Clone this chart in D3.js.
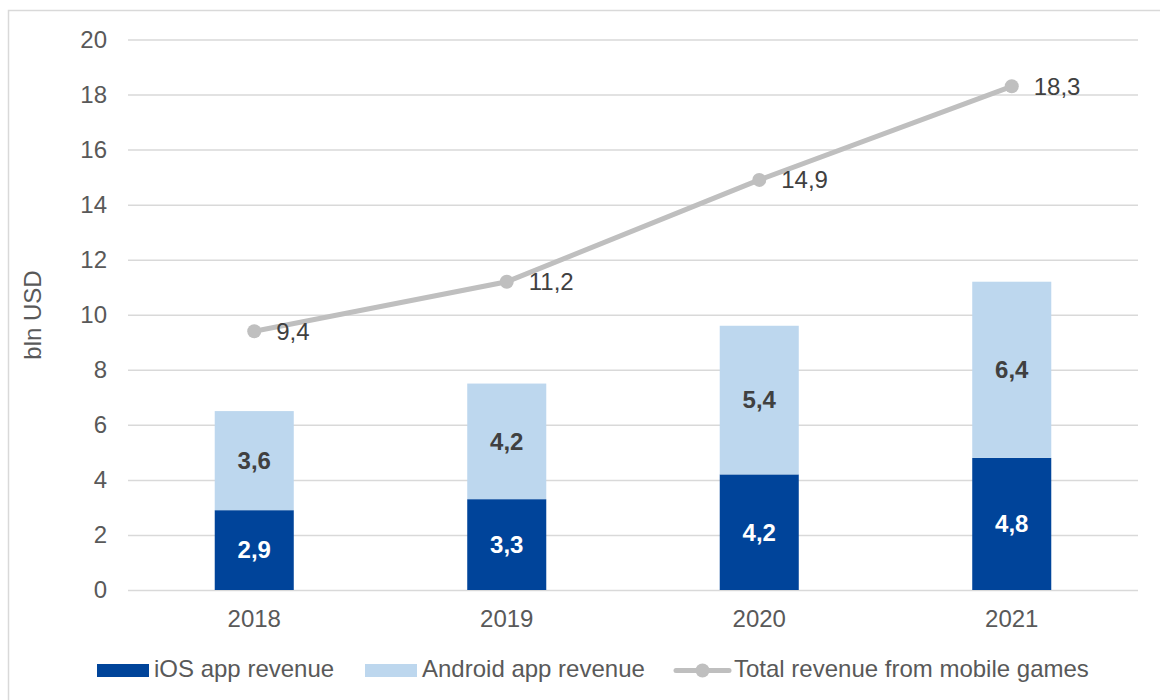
<!DOCTYPE html>
<html>
<head>
<meta charset="utf-8">
<script src="https://cdn.jsdelivr.net/npm/d3@7"></script>
<style>
  html, body { margin: 0; padding: 0; background: #fff; }
  svg { display: block; font-family: "Liberation Sans", Arial, sans-serif; }
</style>
</head>
<body>
<div id="chart"></div>
<script>
const years = ['2018', '2019', '2020', '2021'];
const iosRevenue = [2.9, 3.3, 4.2, 4.8];
const androidRevenue = [3.6, 4.2, 5.4, 6.4];
const totalRevenue = [9.4, 11.2, 14.9, 18.3];
const yTicks = [0, 2, 4, 6, 8, 10, 12, 14, 16, 18, 20];
const legendLabels = ['iOS app revenue', 'Android app revenue', 'Total revenue from mobile games'];

const WIDTH = 1160;
const HEIGHT = 700;
const IOS_COLOR = '#00449a';
const ANDROID_COLOR = '#bdd7ee';
const LINE_COLOR = '#bfbfbf';
const GRID_COLOR = '#d9d9d9';
const TEXT_COLOR = '#595959';
const LABEL_COLOR = '#404040';

const margin = { top: 39.5, right: 22, bottom: 110, left: 128 };
const fmt = (v) => String(v).replace('.', ',');

const svg = d3.select('#chart').append('svg')
  .attr('width', WIDTH)
  .attr('height', HEIGHT);

// outer frame (runs off the right and bottom edges)
svg.append('rect')
  .attr('x', 8.5).attr('y', 10.5)
  .attr('width', WIDTH).attr('height', HEIGHT)
  .attr('fill', 'none')
  .attr('stroke', GRID_COLOR)
  .attr('stroke-width', 1.5);

const x = d3.scaleBand()
  .domain(years)
  .range([margin.left, 1138])
  .paddingInner(0.687)
  .paddingOuter(0.3435);

const y = d3.scaleLinear()
  .domain([0, 20])
  .range([590, margin.top]);

// gridlines + y labels
const yAxis = d3.axisLeft(y)
  .tickValues(yTicks)
  .tickSize(-(1138 - margin.left))
  .tickPadding(21)
  .tickFormat(d3.format('d'));

const gy = svg.append('g')
  .attr('transform', `translate(${margin.left},0)`)
  .call(yAxis);
gy.select('.domain').remove();
gy.selectAll('.tick line').attr('stroke', GRID_COLOR).attr('stroke-width', 1.5);
gy.selectAll('.tick text')
  .attr('fill', TEXT_COLOR)
  .attr('font-size', '24px')
  .attr('font-family', '"Liberation Sans", Arial, sans-serif');

// x labels
const xAxis = d3.axisBottom(x).tickSize(0).tickPadding(20);
const gx = svg.append('g')
  .attr('transform', `translate(0,590)`)
  .call(xAxis);
gx.select('.domain').remove();
gx.selectAll('.tick text')
  .attr('fill', TEXT_COLOR)
  .attr('font-size', '24px')
  .attr('font-family', '"Liberation Sans", Arial, sans-serif');

// y title
svg.append('text')
  .attr('transform', `translate(41,315) rotate(-90)`)
  .attr('text-anchor', 'middle')
  .attr('fill', TEXT_COLOR)
  .attr('font-size', '24px')
  .text('bln USD');

// stacked bars
const rows = years.map((yr, i) => ({ year: yr, ios: iosRevenue[i], android: androidRevenue[i], total: totalRevenue[i] }));
const stack = d3.stack().keys(['ios', 'android'])(rows);
const colors = { ios: IOS_COLOR, android: ANDROID_COLOR };
const labelColors = { ios: '#ffffff', android: LABEL_COLOR };

stack.forEach((layer) => {
  const g = svg.append('g');
  g.selectAll('rect')
    .data(layer)
    .join('rect')
    .attr('x', (d) => x(d.data.year))
    .attr('width', x.bandwidth())
    .attr('y', (d) => y(d[1]))
    .attr('height', (d) => y(d[0]) - y(d[1]))
    .attr('fill', colors[layer.key]);

  g.selectAll('text')
    .data(layer)
    .join('text')
    .attr('x', (d) => x(d.data.year) + x.bandwidth() / 2)
    .attr('y', (d) => (y(d[0]) + y(d[1])) / 2)
    .attr('dy', '0.35em')
    .attr('text-anchor', 'middle')
    .attr('font-size', '24px')
    .attr('font-weight', 'bold')
    .attr('fill', labelColors[layer.key])
    .text((d) => fmt(d.data[layer.key]));
});

// total line
const cx = (d) => x(d.year) + x.bandwidth() / 2;
const line = d3.line().x(cx).y((d) => y(d.total));

svg.append('path')
  .datum(rows)
  .attr('d', line)
  .attr('fill', 'none')
  .attr('stroke', LINE_COLOR)
  .attr('stroke-width', 5)
  .attr('stroke-linecap', 'round');

svg.append('g').selectAll('circle')
  .data(rows)
  .join('circle')
  .attr('cx', cx)
  .attr('cy', (d) => y(d.total))
  .attr('r', 7)
  .attr('fill', LINE_COLOR);

svg.append('g').selectAll('text')
  .data(rows)
  .join('text')
  .attr('x', (d) => cx(d) + 22)
  .attr('y', (d) => y(d.total))
  .attr('dy', '0.35em')
  .attr('font-size', '24px')
  .attr('fill', LABEL_COLOR)
  .text((d) => fmt(d.total));

// legend
const legend = svg.append('g').attr('font-size', '24px').attr('fill', TEXT_COLOR);
const legendX = [97, 365, 674];

legend.append('rect').attr('x', legendX[0]).attr('y', 664).attr('width', 52).attr('height', 13).attr('fill', IOS_COLOR);
legend.append('rect').attr('x', legendX[1]).attr('y', 664).attr('width', 52).attr('height', 13).attr('fill', ANDROID_COLOR);
legend.append('line')
  .attr('x1', legendX[2] + 2).attr('x2', legendX[2] + 55)
  .attr('y1', 670.5).attr('y2', 670.5)
  .attr('stroke', LINE_COLOR).attr('stroke-width', 5).attr('stroke-linecap', 'round');
legend.append('circle').attr('cx', legendX[2] + 28.5).attr('cy', 670.5).attr('r', 7).attr('fill', LINE_COLOR);

legend.selectAll('text')
  .data(legendLabels)
  .join('text')
  .attr('x', (d, i) => legendX[i] + (i === 2 ? 60 : 57))
  .attr('y', 677)
  .text((d) => d);
</script>
</body>
</html>
